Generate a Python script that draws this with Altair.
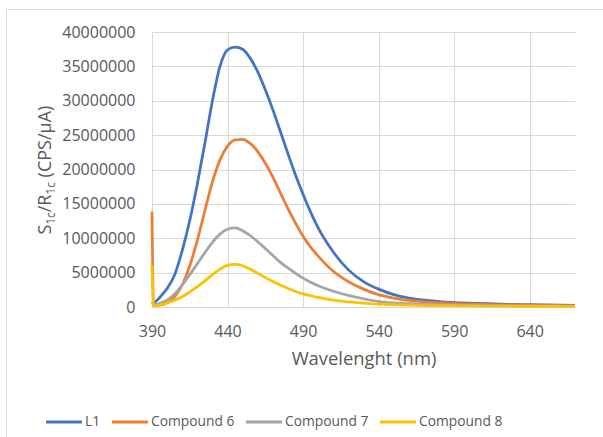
import altair as alt
import pandas as pd

# ---- data ----
wavelength = [390, 391, 393, 396, 400, 405, 410, 415, 420, 425, 430, 435, 440, 445, 450,
              455, 460, 465, 470, 475, 480, 485, 490, 495, 500, 510, 520, 530, 540, 550,
              560, 580, 600, 620, 640, 670]

l1 = [0.5e6, 0.6e6, 0.9e6, 1.6e6, 2.7e6, 4.7e6, 8.2e6, 12.6e6, 17.9e6, 23.8e6, 30.0e6, 35.0e6,
      37.4e6, 37.8e6, 37.5e6, 36.2e6, 34.2e6, 31.6e6, 28.7e6, 25.5e6, 22.3e6, 19.2e6, 16.4e6,
      13.8e6, 11.5e6, 8.0e6, 5.4e6, 3.7e6, 2.6e6, 1.8e6, 1.3e6, 0.8e6, 0.55e6, 0.42e6, 0.33e6, 0.22e6]

compound6 = [13.9e6, 0.3e6, 0.2e6, 0.3e6, 0.6e6, 1.5e6, 3.2e6, 6.0e6, 9.7e6, 14.0e6, 18.2e6, 21.4e6,
             23.4e6, 24.3e6, 24.4e6, 23.8e6, 22.6e6, 20.9e6, 18.9e6, 16.6e6, 14.3e6, 12.2e6, 10.3e6,
             8.7e6, 7.4e6, 5.2e6, 3.7e6, 2.6e6, 1.8e6, 1.3e6, 0.95e6, 0.6e6, 0.42e6, 0.32e6, 0.25e6, 0.18e6]

compound7 = [0.8e6, 0.4e6, 0.4e6, 0.6e6, 1.0e6, 1.9e6, 3.2e6, 4.7e6, 6.3e6, 7.9e6, 9.4e6, 10.6e6,
             11.3e6, 11.5e6, 11.1e6, 10.4e6, 9.5e6, 8.5e6, 7.5e6, 6.5e6, 5.7e6, 4.9e6, 4.2e6,
             3.6e6, 3.1e6, 2.3e6, 1.7e6, 1.2e6, 0.8e6, 0.6e6, 0.48e6, 0.32e6, 0.24e6, 0.19e6, 0.15e6, 0.12e6]

compound8 = [6.1e6, 0.2e6, 0.2e6, 0.35e6, 0.6e6, 1.0e6, 1.5e6, 2.2e6, 2.95e6, 3.8e6, 4.7e6, 5.5e6,
             6.05e6, 6.2e6, 6.0e6, 5.5e6, 4.9e6, 4.3e6, 3.7e6, 3.2e6, 2.7e6, 2.25e6, 1.9e6,
             1.65e6, 1.4e6, 1.0e6, 0.75e6, 0.55e6, 0.42e6, 0.33e6, 0.27e6, 0.19e6, 0.15e6, 0.12e6, 0.1e6, 0.08e6]

series_names = ["L1", "Compound 6", "Compound 7", "Compound 8"]
series_values = [l1, compound6, compound7, compound8]
series_colors = ["#4472C4", "#ED7D31", "#A5A5A5", "#FFC000"]

x_ticks = [390, 440, 490, 540, 590, 640]
y_ticks = [0, 5000000, 10000000, 15000000, 20000000, 25000000, 30000000, 35000000, 40000000]

x_title = "Wavelenght (nm)"
y_title_parts = ["S", "1c", "/R", "1c", "(CPS/μA)"]

# ---- build table ----
rows = []
for name, vals in zip(series_names, series_values):
    for w, v in zip(wavelength, vals):
        rows.append({"wavelength": w, "value": v, "series": name})
df = pd.DataFrame(rows)

TXT = "#595959"
GRID = "#D9D9D9"
FONT = "Open Sans"

color = alt.Color(
    "series:N",
    scale=alt.Scale(domain=series_names, range=series_colors),
    legend=alt.Legend(
        title=None, orient="none", legendX=-108, legendY=370, direction="horizontal",
        symbolType="stroke", symbolSize=1300, symbolStrokeWidth=3,
        labelFontSize=13.8, labelColor=TXT, labelFont=FONT,
        columnPadding=4, labelOffset=1,
    ),
)

x = alt.X(
    "wavelength:Q",
    scale=alt.Scale(domain=[390, 670], nice=False, zero=False),
    axis=alt.Axis(
        values=x_ticks, title=x_title, grid=True, gridColor=GRID, domainColor=GRID,
        ticks=False, labelFlush=False, labelPadding=16, labelFontSize=16, labelColor=TXT,
        labelFont=FONT, titleFontSize=18.4, titleFontWeight="normal", titleColor=TXT,
        titleFont=FONT, titlePadding=10,
    ),
)
y = alt.Y(
    "value:Q",
    scale=alt.Scale(domain=[0, 40000000], nice=False),
    axis=alt.Axis(
        values=y_ticks, format="d", title=None, domain=False, ticks=False,
        labelFlush=False, labelPadding=17, labelFontSize=16, labelColor=TXT, labelFont=FONT,
        gridColor=GRID,
    ),
)

layers = []
for name in series_names:
    layers.append(
        alt.Chart(df)
        .transform_filter(alt.datum.series == name)
        .mark_line(strokeWidth=2.75, interpolate="monotone")
        .encode(x=x, y=y, color=color)
    )

one = pd.DataFrame({"a": [0]})

# y-axis title with subscripts, as separate text pieces (rotated)
title_y = [202.5, 192.6, 180.3, 162.4, 145.4]
title_x = [-101, -97, -101, -97, -101]
title_size = [18, 11.7, 18, 11.7, 18]
for t, ty, tx, ts in zip(y_title_parts, title_y, title_x, title_size):
    layers.append(
        alt.Chart(one)
        .mark_text(text=t, angle=270, align="left", baseline="alphabetic",
                   fontSize=ts, font=FONT, color=TXT)
        .encode(x=alt.value(tx), y=alt.value(ty))
    )

# outer chart frame (top and left edges visible)
layers.append(
    alt.Chart(one).mark_rule(color=GRID, strokeWidth=1)
    .encode(x=alt.value(-145.5), x2=alt.value(451), y=alt.value(-22.5))
)
layers.append(
    alt.Chart(one).mark_rule(color=GRID, strokeWidth=1)
    .encode(x=alt.value(-145.5), y=alt.value(-22.5), y2=alt.value(405))
)

chart = (
    alt.layer(*layers)
    .properties(
        width=423, height=275,
        autosize=alt.AutoSizeParams(type="none"),
        padding={"left": 152, "top": 32, "right": 28, "bottom": 130},
        background="white",
    )
    .configure_view(stroke=None)
)

chart.save("out.html", embed_options={"renderer": "svg", "actions": False})
